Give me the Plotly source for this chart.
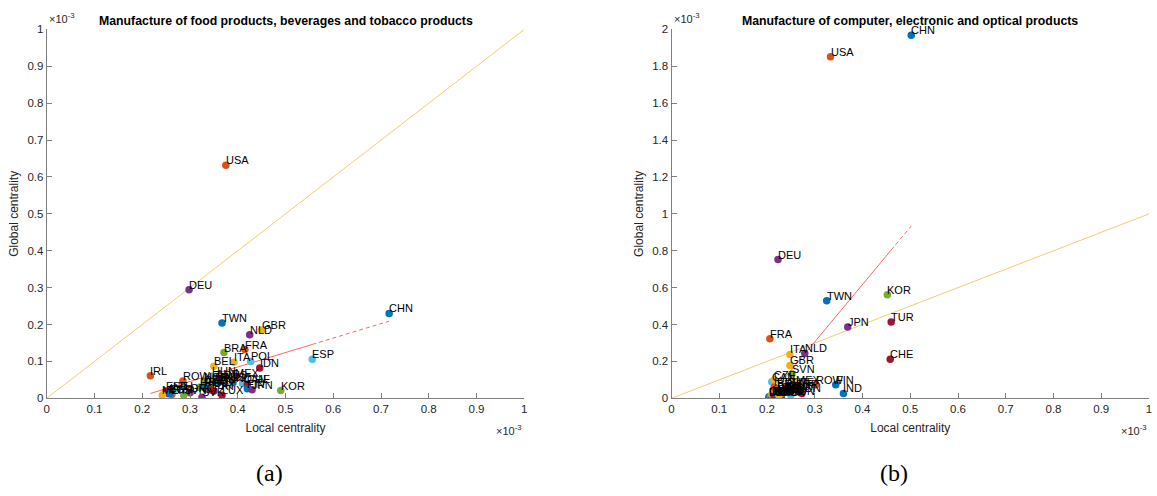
import plotly.graph_objects as go

# Country codes (plot order determines the colour cycle)
countries = ["AUS", "AUT", "BEL", "BGR", "BRA", "CAN", "CHE", "CHN", "CYP", "CZE",
             "DEU", "DNK", "ESP", "EST", "FIN", "FRA", "GBR", "GRC", "HRV", "HUN",
             "IDN", "IND", "IRL", "ITA", "JPN", "KOR", "LTU", "LUX", "LVA", "MEX",
             "MLT", "NLD", "NOR", "POL", "PRT", "ROU", "ROW", "RUS", "SVK", "SVN",
             "SWE", "TUR", "TWN", "USA"]

# Food, beverages and tobacco (values in units of 1e-3)
local_food = [0.370, 0.355, 0.350, 0.255, 0.371, 0.410, 0.420, 0.717, 0.262, 0.330,
              0.298, 0.345, 0.556, 0.250, 0.420, 0.415, 0.450, 0.300, 0.320, 0.345,
              0.446, 0.390, 0.217, 0.392, 0.430, 0.490, 0.265, 0.367, 0.258, 0.395,
              0.242, 0.425, 0.330, 0.427, 0.350, 0.330, 0.285, 0.372, 0.325, 0.287,
              0.352, 0.342, 0.367, 0.375]
global_food = [0.045, 0.052, 0.087, 0.012, 0.124, 0.040, 0.038, 0.230, 0.010, 0.035,
               0.294, 0.040, 0.106, 0.020, 0.026, 0.132, 0.185, 0.015, 0.030, 0.060,
               0.082, 0.042, 0.061, 0.098, 0.023, 0.021, 0.020, 0.008, 0.013, 0.055,
               0.008, 0.172, 0.045, 0.100, 0.020, 0.030, 0.047, 0.050, 0.003, 0.008,
               0.045, 0.023, 0.204, 0.632]

# Computer, electronic and optical (values in units of 1e-3)
local_comp = [0.230, 0.240, 0.220, 0.230, 0.235, 0.210, 0.458, 0.502, 0.205, 0.215,
              0.223, 0.245, 0.260, 0.210, 0.344, 0.206, 0.248, 0.215, 0.220, 0.250,
              0.273, 0.360, 0.215, 0.248, 0.369, 0.452, 0.210, 0.205, 0.204, 0.260,
              0.210, 0.279, 0.215, 0.240, 0.215, 0.220, 0.302, 0.225, 0.230, 0.252,
              0.245, 0.460, 0.325, 0.333]
global_comp = [0.020, 0.060, 0.050, 0.005, 0.030, 0.090, 0.212, 1.968, 0.010, 0.100,
               0.752, 0.040, 0.050, 0.010, 0.074, 0.323, 0.178, 0.005, 0.020, 0.015,
               0.026, 0.026, 0.060, 0.238, 0.386, 0.561, 0.015, 0.005, 0.005, 0.070,
               0.020, 0.243, 0.010, 0.040, 0.010, 0.025, 0.074, 0.015, 0.035, 0.132,
               0.060, 0.413, 0.529, 1.852]

# Least-squares fit lines (slope, intercept)
fit_food = (0.392, -0.072)
fit_comp = (3.11, -0.627)

titles = ["Manufacture of food products, beverages and tobacco products",
          "Manufacture of computer, electronic and optical products"]
captions = ["(a)", "(b)"]
x_ticks = [0, 0.1, 0.2, 0.3, 0.4, 0.5, 0.6, 0.7, 0.8, 0.9, 1]
y_ticks_food = [0, 0.1, 0.2, 0.3, 0.4, 0.5, 0.6, 0.7, 0.8, 0.9, 1]
y_ticks_comp = [0, 0.2, 0.4, 0.6, 0.8, 1, 1.2, 1.4, 1.6, 1.8, 2]

palette = ["#0072BD", "#D95319", "#EDB120", "#7E2F8E", "#77AC30", "#4DBEEE", "#A2142F"]

W, H = 1157, 496
ydom = [1 - 402 / H, 1 - 24 / H]
xdoms = [[44 / W, 524 / W], [672 / W, 1152 / W]]

fig = go.Figure()
FONT = "Liberation Sans, Helvetica, Arial, sans-serif"
annotations = []


def fmt(v):
    return f"{v:g}"


def paper_text(x, y_px, text, size, xanchor="center", family=FONT, color="#000000"):
    return dict(x=x, y=1 - y_px / H, xref="paper", yref="paper", text=text,
                showarrow=False, xanchor=xanchor, yanchor="middle",
                font=dict(family=family, size=size, color=color))


panels = [
    (local_food, global_food, fit_food, y_ticks_food, 1.0),
    (local_comp, global_comp, fit_comp, y_ticks_comp, 2.0),
]

for p, (lx, gy, fit, yt, ymax) in enumerate(panels):
    xa = "x" if p == 0 else "x2"
    ya = "y" if p == 0 else "y2"
    # 45-degree reference line
    fig.add_trace(go.Scatter(x=[0, 1], y=[0, 1], mode="lines", xaxis=xa, yaxis=ya,
                             line=dict(color="rgba(237,177,32,0.65)", width=1),
                             hoverinfo="skip", showlegend=False))
    # fitted line: solid across the bulk, dashed out to the largest observation
    srt = sorted(lx)
    x0, x1, x2 = srt[0], srt[-2], srt[-1]
    m, c = fit
    fig.add_trace(go.Scatter(x=[x0, x1], y=[m * x0 + c, m * x1 + c], mode="lines",
                             xaxis=xa, yaxis=ya,
                             line=dict(color="rgba(255,0,0,0.6)", width=1),
                             hoverinfo="skip", showlegend=False))
    fig.add_trace(go.Scatter(x=[x1, x2], y=[m * x1 + c, m * x2 + c], mode="lines",
                             xaxis=xa, yaxis=ya,
                             line=dict(color="rgba(255,0,0,0.6)", width=1, dash="4px,3px"),
                             hoverinfo="skip", showlegend=False))
    for i, name in enumerate(countries):
        fig.add_trace(go.Scatter(x=[lx[i]], y=[gy[i]], mode="markers", xaxis=xa, yaxis=ya,
                                 marker=dict(color=palette[i % 7], size=7.5, line=dict(width=0)),
                                 name=name, showlegend=False))
        annotations.append(dict(x=lx[i], y=gy[i], xref=xa, yref=ya, text=name,
                                showarrow=False, xanchor="left", yanchor="bottom",
                                xshift=-2, yshift=-3,
                                font=dict(family=FONT, size=11, color="#000000")))

    axis_common = dict(showgrid=False, zeroline=False, showline=True, linecolor="#808080",
                       linewidth=1, ticks="inside", ticklen=5, tickcolor="#808080",
                       tickfont=dict(family=FONT, size=11.5, color="#262626"),
                       mirror=False)
    xd = xdoms[p]
    fig.update_layout(**{
        ("xaxis" if p == 0 else "xaxis2"): dict(
            domain=xd, range=[0, 1], anchor=ya, tickvals=x_ticks,
            ticktext=[fmt(v) for v in x_ticks],
            title=dict(text="Local centrality", standoff=9,
                       font=dict(family=FONT, size=12, color="#262626")),
            **axis_common),
        ("yaxis" if p == 0 else "yaxis2"): dict(
            domain=ydom, range=[0, ymax], anchor=xa, tickvals=yt,
            ticktext=[fmt(v) for v in yt],
            title=dict(text="Global centrality", standoff=6,
                       font=dict(family=FONT, size=12, color="#262626")),
            **axis_common),
    })
    xmid = (xd[0] + xd[1]) / 2
    annotations.append(paper_text(xmid, 15, f"<b>{titles[p]}</b>", 12.3))
    # exponent markers for both axes
    annotations.append(paper_text(xd[0], 12, "×10<sup>-3</sup>", 11, xanchor="left",
                                  color="#262626"))
    annotations.append(paper_text(xd[1], 434, "×10<sup>-3</sup>", 11, xanchor="right",
                                  color="#262626"))
    annotations.append(paper_text(xmid - 16 / W, 479, captions[p], 24,
                                  family="Liberation Serif, DejaVu Serif, serif"))

fig.update_layout(width=W, height=H, margin=dict(l=0, r=0, t=0, b=0),
                  paper_bgcolor="white", plot_bgcolor="white",
                  annotations=annotations, showlegend=False)

fig.write_html("out.html")
